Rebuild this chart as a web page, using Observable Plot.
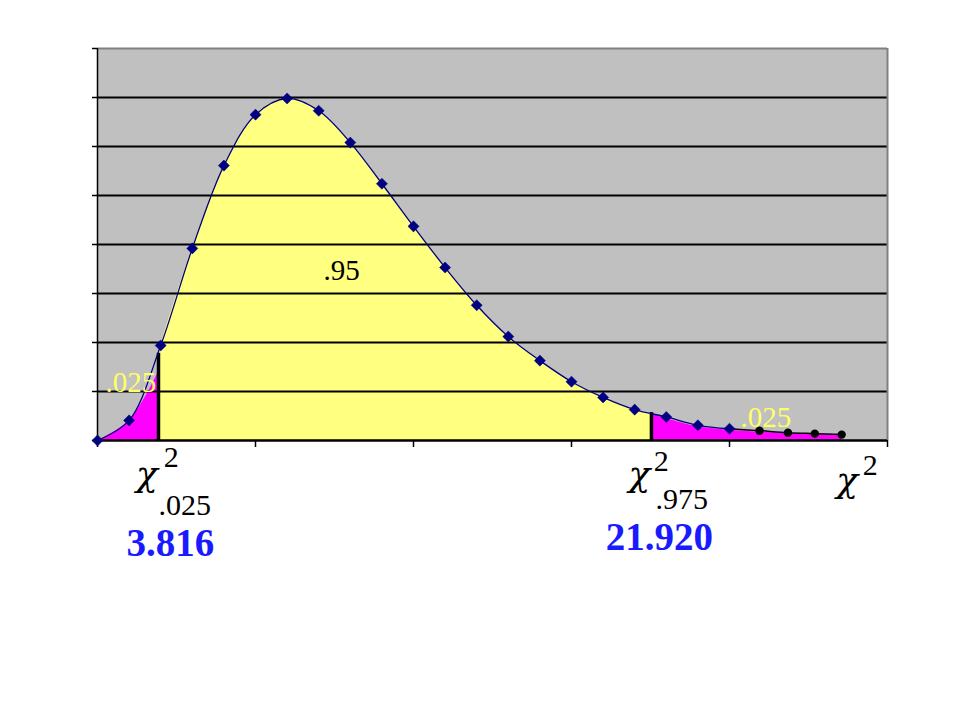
<!DOCTYPE html>
<html>
<head>
<meta charset="utf-8">
<script src="https://cdn.jsdelivr.net/npm/d3@7"></script>
<script src="https://cdn.jsdelivr.net/npm/@observablehq/plot@0.6"></script>
<style>
  html, body { margin: 0; padding: 0; background: #fff; }
  #chart { width: 960px; height: 720px; }
</style>
</head>
<body>
<div id="chart"></div>
<script>
// Curve points (category index, density in gridline units)
const curveX = [0,1,2,3,4,5,6,7,8,9,10,11,12,13,14,15,16,17,18,19,20];
const curveY = [0,0.41,1.94,3.92,5.61,6.65,6.98,6.73,6.08,5.24,4.37,3.53,2.76,2.12,1.63,1.20,0.88,0.63,0.48,0.31,0.24];
// Tail points drawn as black dots
const tailX = [20,20.95,21.85,22.7,23.55];
const tailY = [0.24,0.20,0.16,0.14,0.12];
// Critical value positions and line heights
const critX = [1.93, 17.53];
const critTop = [1.78, 0.57];
// Shaded regions
const leftTailX = [0,1,1.93];
const leftTailY = [0,0.40,1.40];
const midX = [1.93,2,3,4,5,6,7,8,9,10,11,12,13,14,15,16,17,17.53];
const midY = [1.78,1.94,3.92,5.61,6.65,6.98,6.73,6.08,5.24,4.37,3.53,2.76,2.12,1.63,1.20,0.88,0.63,0.56];
const rightTailX = [17.53,18,19,20,20.95,21.85,22.7,23.55];
const rightTailY = [0.54,0.45,0.28,0.21,0.17,0.14,0.12,0.10];
const gridLines = [0,1,2,3,4,5,6,7];
const xTicks = [0,5,10,15,20,25];
const yTicks = [0,1,2,3,4,5,6,7,8];
// Annotations
const symbolLabels = [
  {x: 1.22, y: -0.92, text: "χ"},
  {x: 16.80, y: -0.92, text: "χ"},
  {x: 23.38, y: -1.06, text: "χ"}
];
const scriptLabels = [
  {x: 2.10, y: -0.55, text: "2"},
  {x: 1.93, y: -1.53, text: ".025"},
  {x: 17.60, y: -0.63, text: "2"},
  {x: 17.66, y: -1.39, text: ".975"},
  {x: 24.22, y: -0.71, text: "2"}
];
const valueLabels = [
  {x: 0.92, y: -2.35, text: "3.816"},
  {x: 16.08, y: -2.24, text: "21.920"}
];
const areaLabels = [
  {x: 7.15, y: 3.27, text: ".95", fill: "#000"},
  {x: 0.25, y: 0.98, text: ".025", fill: "#ffff66"},
  {x: 20.35, y: 0.27, text: ".025", fill: "#ffff66"}
];

const curve = curveX.map((x, i) => ({x, y: curveY[i]}));
const tail = tailX.map((x, i) => ({x, y: tailY[i]}));
const leftTail = leftTailX.map((x, i) => ({x, y: leftTailY[i]}));
const mid = midX.map((x, i) => ({x, y: midY[i]}));
const rightTail = rightTailX.map((x, i) => ({x, y: rightTailY[i]}));
const crit = critX.map((x, i) => ({x, y: critTop[i]}));

const serif = "Liberation Serif";
const chart = Plot.plot({
  width: 960,
  height: 720,
  marginLeft: 97,
  marginRight: 73,
  marginTop: 48,
  marginBottom: 280,
  style: {background: "#fff", overflow: "visible"},
  x: {type: "linear", domain: [0, 25], axis: null, label: null},
  y: {type: "linear", domain: [0, 8], axis: null, label: null},
  marks: [
    Plot.frame({fill: "#c0c0c0", stroke: null}),
    Plot.areaY(leftTail, {x: "x", y: "y", fill: "#ff00ff", curve: "catmull-rom"}),
    Plot.areaY(mid, {x: "x", y: "y", fill: "#ffff80", curve: "catmull-rom"}),
    Plot.areaY(rightTail, {x: "x", y: "y", fill: "#ff00ff", curve: "catmull-rom"}),
    Plot.ruleY(gridLines, {y: d => d, stroke: "#000", strokeWidth: 2}),
    Plot.ruleY([8], {y: d => d, stroke: "#808080", strokeWidth: 2}),
    Plot.ruleX([25], {x: d => d, stroke: "#808080", strokeWidth: 2}),
    Plot.ruleX(crit, {x: "x", y1: 0, y2: "y", stroke: "#000", strokeWidth: 3.5}),
    Plot.ruleX([0], {x: d => d, stroke: "#000", strokeWidth: 1.5}),
    Plot.ruleY([0], {y: d => d, stroke: "#000", strokeWidth: 2}),
    Plot.axisX({ticks: xTicks, tickSize: 7, tickFormat: () => "", label: null, stroke: "#000", strokeWidth: 1.5}),
    Plot.axisY({ticks: yTicks, tickSize: 5, tickFormat: () => "", label: null, stroke: "#000", strokeWidth: 1.5}),
    Plot.line(curve, {x: "x", y: "y", stroke: "#000080", strokeWidth: 1.3, curve: "catmull-rom"}),
    Plot.line(tail, {x: "x", y: "y", stroke: "#000", strokeWidth: 1.5, curve: "catmull-rom"}),
    Plot.dot(curve, {x: "x", y: "y", symbol: "diamond2", fill: "#000080", stroke: "#000080", r: 5, strokeWidth: 0.5}),
    Plot.dot(tail.slice(1), {x: "x", y: "y", fill: "#000", r: 4.2}),
    Plot.text(symbolLabels, {
      x: "x", y: "y", text: "text", fill: "#000", fontSize: 36, fontStyle: "italic", fontFamily: "DejaVu Serif",
      textAnchor: "start", lineAnchor: "bottom"
    }),
    Plot.text(scriptLabels, {
      x: "x", y: "y", text: "text", fill: "#000", fontSize: 30, fontFamily: serif,
      textAnchor: "start", lineAnchor: "bottom"
    }),
    Plot.text(valueLabels, {
      x: "x", y: "y", text: "text", fill: "#1a1aff", fontSize: 39, fontWeight: "bold", fontFamily: serif,
      textAnchor: "start", lineAnchor: "bottom"
    }),
    Plot.text(areaLabels, {
      x: "x", y: "y", text: "text", fill: "fill", fontSize: 29, fontFamily: serif,
      textAnchor: "start", lineAnchor: "bottom"
    })
  ]
});
document.getElementById("chart").appendChild(chart);
</script>
</body>
</html>
